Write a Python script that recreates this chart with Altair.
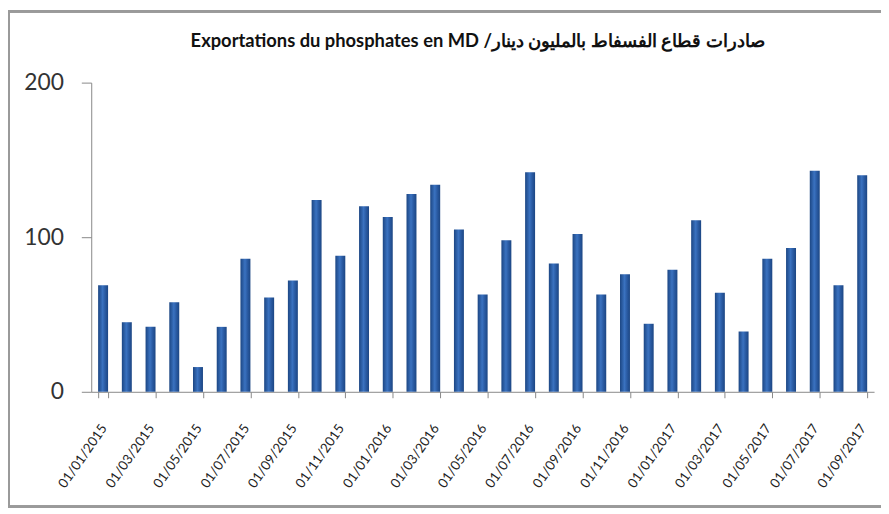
import altair as alt
import pandas as pd

months = [
    "01/01/2015", "01/02/2015", "01/03/2015", "01/04/2015", "01/05/2015", "01/06/2015",
    "01/07/2015", "01/08/2015", "01/09/2015", "01/10/2015", "01/11/2015", "01/12/2015",
    "01/01/2016", "01/02/2016", "01/03/2016", "01/04/2016", "01/05/2016", "01/06/2016",
    "01/07/2016", "01/08/2016", "01/09/2016", "01/10/2016", "01/11/2016", "01/12/2016",
    "01/01/2017", "01/02/2017", "01/03/2017", "01/04/2017", "01/05/2017", "01/06/2017",
    "01/07/2017", "01/08/2017", "01/09/2017",
]
exports = [69, 45, 42, 58, 16, 42, 86, 61, 72, 124, 88, 120, 113, 128, 134, 105, 63,
           98, 142, 83, 102, 63, 76, 44, 79, 111, 64, 39, 86, 93, 143, 69, 140]
tick_labels = [
    "01/01/2015", "01/03/2015", "01/05/2015", "01/07/2015", "01/09/2015", "01/11/2015",
    "01/01/2016", "01/03/2016", "01/05/2016", "01/07/2016", "01/09/2016", "01/11/2016",
    "01/01/2017", "01/03/2017", "01/05/2017", "01/07/2017", "01/09/2017",
]
y_ticks = [0, 100, 200]
title_text = "Exportations du phosphates en MD /صادرات قطاع الفسفاط بالمليون دينار"

df = pd.DataFrame({"month": months, "value": exports})

grad = alt.Gradient(
    gradient="linear",
    stops=[
        alt.GradientStop(color="#1c4683", offset=0),
        alt.GradientStop(color="#3a72c0", offset=0.45),
        alt.GradientStop(color="#2a5ba3", offset=0.7),
        alt.GradientStop(color="#1c4683", offset=1),
    ],
    x1=0, x2=1, y1=0, y2=0,
)

bars = alt.Chart(df).mark_bar(color=grad).encode(
    x=alt.X(
        "month:N",
        sort=months,
        scale=alt.Scale(paddingInner=0.58, paddingOuter=0.29),
        axis=alt.Axis(
            values=tick_labels,
            title=None,
            labelAngle=-55,
            labelAlign="right",
            labelBaseline="top",
            labelFont="Lato",
            labelFontSize=13.5,
            labelColor="#222222",
            labelPadding=24,
            labelOffset=-5,
            tickBand="extent",
            tickSize=6,
            tickColor="#888888",
            domainColor="#888888",
            labelOverlap=False,
        ),
    ),
    y=alt.Y(
        "value:Q",
        scale=alt.Scale(domain=[0, 200], nice=False),
        axis=alt.Axis(
            values=y_ticks,
            title=None,
            grid=False,
            tickSize=10,
            tickColor="#888888",
            domainColor="#888888",
            labelFont="Lato",
            labelFontSize=23,
            labelColor="#333333",
            labelPadding=18,
        ),
    ),
)

frame = alt.Chart(df).mark_rect(filled=False, stroke="#9a9a9a", strokeWidth=2).encode(
    x=alt.value(-83), x2=alt.value(805), y=alt.value(-72), y2=alt.value(428)
)

chart = alt.layer(frame, bars).properties(
    width=790,
    height=312,
    title=alt.TitleParams(
        title_text,
        font="Lato",
        fontSize=18.5,
        fontWeight="bold",
        color="#111111",
        frame="group",
        anchor="middle",
        offset=-41,
        dx=-5,
    ),
    autosize=alt.AutoSizeParams(type="none"),
    padding={"left": 84, "top": 73, "right": 7, "bottom": 118},
).configure_view(stroke=None)

chart.save("out.html", embed_options={"renderer": "svg", "actions": False})
